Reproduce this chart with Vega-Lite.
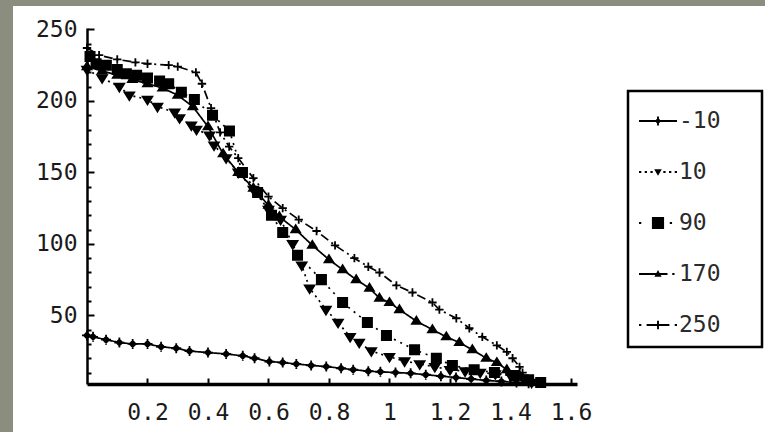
{
  "$schema": "https://vega.github.io/schema/vega-lite/v6.json",
  "width": 752,
  "height": 426,
  "autosize": {"type": "none"},
  "padding": {"left": 13, "top": 6, "right": 0, "bottom": 0},
  "background": "#8b8e7f",
  "config": {
    "view": {"fill": "white", "stroke": null},
    "font": "DejaVu Sans Mono",
    "legend": {"strokeWidth": 2.5, "symbolStrokeColor": "black", "symbolStrokeWidth": 1.5}
  },
  "data": {"values": [
    {"s":"-10","x":0.0,"y":36},{"s":"-10","x":0.02,"y":35},{"s":"-10","x":0.063,"y":33},{"s":"-10","x":0.107,"y":31},{"s":"-10","x":0.151,"y":30},{"s":"-10","x":0.2,"y":30},{"s":"-10","x":0.245,"y":28},{"s":"-10","x":0.295,"y":27},{"s":"-10","x":0.339,"y":25},{"s":"-10","x":0.4,"y":24},{"s":"-10","x":0.46,"y":23},{"s":"-10","x":0.515,"y":21.7},{"s":"-10","x":0.554,"y":20},{"s":"-10","x":0.603,"y":17.7},{"s":"-10","x":0.647,"y":17},{"s":"-10","x":0.692,"y":16},{"s":"-10","x":0.741,"y":15},{"s":"-10","x":0.791,"y":14.2},{"s":"-10","x":0.84,"y":13},{"s":"-10","x":0.88,"y":12},{"s":"-10","x":0.93,"y":11},{"s":"-10","x":0.97,"y":10.5},{"s":"-10","x":1.02,"y":10},{"s":"-10","x":1.07,"y":9.5},{"s":"-10","x":1.12,"y":8.5},{"s":"-10","x":1.17,"y":7.5},{"s":"-10","x":1.22,"y":6.5},{"s":"-10","x":1.27,"y":5.5},{"s":"-10","x":1.32,"y":4.5},{"s":"-10","x":1.37,"y":3.8},{"s":"-10","x":1.42,"y":3},{"s":"-10","x":1.46,"y":2.5},

    {"s":"10","x":0.0,"y":222},{"s":"10","x":0.05,"y":216},{"s":"10","x":0.107,"y":210},{"s":"10","x":0.14,"y":204},{"s":"10","x":0.2,"y":201},{"s":"10","x":0.233,"y":196},{"s":"10","x":0.29,"y":192},{"s":"10","x":0.306,"y":188},{"s":"10","x":0.345,"y":183},{"s":"10","x":0.362,"y":180},{"s":"10","x":0.405,"y":176},{"s":"10","x":0.42,"y":169},{"s":"10","x":0.46,"y":160},{"s":"10","x":0.5,"y":150},{"s":"10","x":0.55,"y":138},{"s":"10","x":0.6,"y":124},{"s":"10","x":0.64,"y":117},{"s":"10","x":0.68,"y":100},{"s":"10","x":0.71,"y":85},{"s":"10","x":0.736,"y":69},{"s":"10","x":0.79,"y":54},{"s":"10","x":0.83,"y":45},{"s":"10","x":0.87,"y":35},{"s":"10","x":0.9,"y":31},{"s":"10","x":0.94,"y":25},{"s":"10","x":1.0,"y":21},{"s":"10","x":1.05,"y":18},{"s":"10","x":1.1,"y":16},{"s":"10","x":1.15,"y":14},{"s":"10","x":1.2,"y":12},{"s":"10","x":1.25,"y":11},{"s":"10","x":1.3,"y":10},{"s":"10","x":1.35,"y":9},{"s":"10","x":1.4,"y":8},{"s":"10","x":1.44,"y":6},{"s":"10","x":1.47,"y":3},

    {"s":"90","x":0.01,"y":231},{"s":"90","x":0.03,"y":226},{"s":"90","x":0.064,"y":225},{"s":"90","x":0.1,"y":222},{"s":"90","x":0.13,"y":219},{"s":"90","x":0.164,"y":218},{"s":"90","x":0.2,"y":216},{"s":"90","x":0.24,"y":214},{"s":"90","x":0.27,"y":212},{"s":"90","x":0.312,"y":206},{"s":"90","x":0.355,"y":201},{"s":"90","x":0.415,"y":190},{"s":"90","x":0.471,"y":179},{"s":"90","x":0.514,"y":150},{"s":"90","x":0.564,"y":136},{"s":"90","x":0.61,"y":120},{"s":"90","x":0.647,"y":108},{"s":"90","x":0.696,"y":92},{"s":"90","x":0.775,"y":75},{"s":"90","x":0.845,"y":59},{"s":"90","x":0.927,"y":45},{"s":"90","x":0.99,"y":36},{"s":"90","x":1.083,"y":26},{"s":"90","x":1.155,"y":20},{"s":"90","x":1.208,"y":15},{"s":"90","x":1.28,"y":12},{"s":"90","x":1.347,"y":10},{"s":"90","x":1.413,"y":8},{"s":"90","x":1.46,"y":5},{"s":"90","x":1.5,"y":3},

    {"s":"170","x":0.0,"y":224},{"s":"170","x":0.05,"y":221},{"s":"170","x":0.1,"y":218},{"s":"170","x":0.15,"y":215},{"s":"170","x":0.2,"y":212},{"s":"170","x":0.25,"y":209},{"s":"170","x":0.3,"y":204},{"s":"170","x":0.35,"y":196},{"s":"170","x":0.4,"y":182},{"s":"170","x":0.45,"y":163},{"s":"170","x":0.5,"y":150},{"s":"170","x":0.55,"y":139},{"s":"170","x":0.6,"y":127},{"s":"170","x":0.636,"y":119},{"s":"170","x":0.69,"y":110},{"s":"170","x":0.745,"y":99},{"s":"170","x":0.8,"y":89},{"s":"170","x":0.845,"y":82},{"s":"170","x":0.89,"y":75},{"s":"170","x":0.934,"y":69},{"s":"170","x":0.967,"y":62},{"s":"170","x":1.0,"y":59},{"s":"170","x":1.033,"y":54},{"s":"170","x":1.089,"y":46},{"s":"170","x":1.142,"y":40},{"s":"170","x":1.188,"y":35},{"s":"170","x":1.231,"y":31},{"s":"170","x":1.274,"y":26},{"s":"170","x":1.32,"y":20},{"s":"170","x":1.355,"y":17},{"s":"170","x":1.388,"y":12},{"s":"170","x":1.43,"y":8},{"s":"170","x":1.45,"y":4},

    {"s":"250","x":0.0,"y":237},{"s":"250","x":0.04,"y":232},{"s":"250","x":0.1,"y":229},{"s":"250","x":0.16,"y":227},{"s":"250","x":0.2,"y":226},{"s":"250","x":0.27,"y":225},{"s":"250","x":0.3,"y":224},{"s":"250","x":0.36,"y":220},{"s":"250","x":0.38,"y":212},{"s":"250","x":0.41,"y":195},{"s":"250","x":0.44,"y":178},{"s":"250","x":0.47,"y":168},{"s":"250","x":0.5,"y":160},{"s":"250","x":0.55,"y":146},{"s":"250","x":0.6,"y":133},{"s":"250","x":0.647,"y":125},{"s":"250","x":0.7,"y":117},{"s":"250","x":0.759,"y":109},{"s":"250","x":0.82,"y":99},{"s":"250","x":0.884,"y":90},{"s":"250","x":0.93,"y":84},{"s":"250","x":0.967,"y":80},{"s":"250","x":1.023,"y":71},{"s":"250","x":1.076,"y":66},{"s":"250","x":1.142,"y":59},{"s":"250","x":1.165,"y":54},{"s":"250","x":1.221,"y":48},{"s":"250","x":1.264,"y":41},{"s":"250","x":1.307,"y":35},{"s":"250","x":1.355,"y":29},{"s":"250","x":1.388,"y":24.5},{"s":"250","x":1.407,"y":20},{"s":"250","x":1.43,"y":14},{"s":"250","x":1.44,"y":10},{"s":"250","x":1.45,"y":5}
  ]},
  "encoding": {
    "x": {
      "field": "x", "type": "quantitative",
      "scale": {"domain": [0, 1.62], "range": [74, 564], "nice": false, "zero": false},
      "axis": {
        "title": null, "orient": "bottom", "offset": -48, "grid": false,
        "values": [0.2, 0.4, 0.6, 0.8, 1, 1.2, 1.4, 1.6],
        "labelExpr": "datum.value === 1 ? '1' : format(datum.value, '.1f')",
        "domainColor": "black", "domainWidth": 3.5,
        "tickColor": "black", "tickWidth": 2, "tickSize": -6,
        "labelFont": "DejaVu Sans Mono", "labelFontSize": 23, "labelColor": "#1a1a1a",
        "labelPadding": 23, "labelFlush": false, "labelOverlap": false
      }
    },
    "y": {
      "field": "y", "type": "quantitative",
      "scale": {"domain": [2, 251], "range": [378, 22], "nice": false, "zero": false},
      "axis": {
        "title": null, "orient": "left", "offset": -74, "grid": false,
        "values": [10,20,30,40,50,60,70,80,90,100,110,120,130,140,150,160,170,180,190,200,210,220,230,240,250],
        "labelExpr": "datum.value % 50 === 0 ? datum.label : ''",
        "domainColor": "black", "domainWidth": 2.5,
        "tickColor": "black", "tickWidth": 2,
        "tickSize": {"condition": {"test": "datum.value % 50 === 0", "value": -7}, "value": -4},
        "labelFont": "DejaVu Sans Mono", "labelFontSize": 23, "labelColor": "#1a1a1a",
        "labelPadding": 17, "labelBaseline": "middle", "labelFlush": false, "labelOverlap": false
      }
    }
  },
  "layer": [
    {
      "mark": {"type": "line", "color": "black", "strokeWidth": 1.7},
      "encoding": {
        "strokeDash": {
          "field": "s", "type": "nominal",
          "scale": {"domain": ["-10","10","90","170","250"], "range": [[1,0],[2,4],[2,5],[1,0],[9,4,2,4]]},
          "legend": null
        }
      }
    },
    {
      "mark": {"type": "point", "filled": true, "fill": "black", "stroke": "black", "strokeWidth": 1.8, "opacity": 1},
      "encoding": {
        "shape": {
          "field": "s", "type": "nominal",
          "scale": {"domain": ["-10","10","90","170","250"], "range": [
            "M-1,0L1,0M0,-1L0,1M0,-0.6L0.6,0L0,0.6L-0.6,0Z",
            "M-1,-0.6L1,-0.6L0,1Z",
            "square",
            "M-1,0.6L1,0.6L0,-1Z",
            "M-1,0L1,0M0,-1L0,1"
          ]},
          "legend": null
        },
        "size": {
          "field": "s", "type": "nominal",
          "scale": {"domain": ["-10","10","90","170","250"], "range": [100, 70, 175, 64, 49]},
          "legend": null
        }
      }
    },
    {
      "transform": [{"filter": "datum.x < -1"}],
      "mark": {"type": "point", "filled": true, "fill": "black", "stroke": "black", "strokeWidth": 1.5, "opacity": 1},
      "encoding": {
        "shape": {
          "field": "s", "type": "nominal",
          "scale": {"domain": ["-10","10","90","170","250"], "range": [
            "M-1,-0.05L1,-0.05L1,0.05L-1,0.05ZM-0.05,-0.24L0.05,-0.24L0.05,0.24L-0.05,0.24ZM0,-0.17L0.17,0L0,0.17L-0.17,0Z",
            "M-1,-0.05L-0.88,-0.05L-0.88,0.05L-1,0.05ZM-0.7,-0.05L-0.58,-0.05L-0.58,0.05L-0.7,0.05ZM-0.4,-0.05L-0.28,-0.05L-0.28,0.05L-0.4,0.05ZM0.28,-0.05L0.4,-0.05L0.4,0.05L0.28,0.05ZM0.58,-0.05L0.7,-0.05L0.7,0.05L0.58,0.05ZM0.88,-0.05L1,-0.05L1,0.05L0.88,0.05ZM-0.2,-0.14L0.2,-0.14L0,0.2Z",
            "M-1,-0.05L-0.88,-0.05L-0.88,0.05L-1,0.05ZM0.62,-0.05L0.74,-0.05L0.74,0.05L0.62,0.05ZM-0.32,-0.32L0.32,-0.32L0.32,0.32L-0.32,0.32Z",
            "M-1,-0.05L0.5,-0.05L0.5,0.05L-1,0.05ZM0.75,-0.05L0.87,-0.05L0.87,0.05L0.75,0.05ZM-0.19,0.15L0,-0.21L0.19,0.15Z",
            "M-1,-0.05L-0.88,-0.05L-0.88,0.05L-1,0.05ZM-0.6,-0.05L0.6,-0.05L0.6,0.05L-0.6,0.05ZM0.88,-0.05L1,-0.05L1,0.05L0.88,0.05ZM-0.05,-0.22L0.05,-0.22L0.05,0.22L-0.05,0.22Z"
          ]},
          "legend": {
            "title": " ", "titleOrient": "right", "titlePadding": 31, "titleFontSize": 10,
            "orient": "none", "legendX": 615, "legendY": 85,
            "strokeColor": "black", "fillColor": "white",
            "padding": 10, "symbolSize": 1444, "symbolStrokeWidth": 1.5,
            "symbolFillColor": "black", "symbolStrokeColor": "black", "symbolOpacity": 1,
            "rowPadding": 19, "labelOffset": 1,
            "labelFont": "DejaVu Sans Mono", "labelFontSize": 23, "labelColor": "#2a2a2a"
          }
        }
      }
    }
  ],
  "resolve": {"scale": {"shape": "independent"}}
}
